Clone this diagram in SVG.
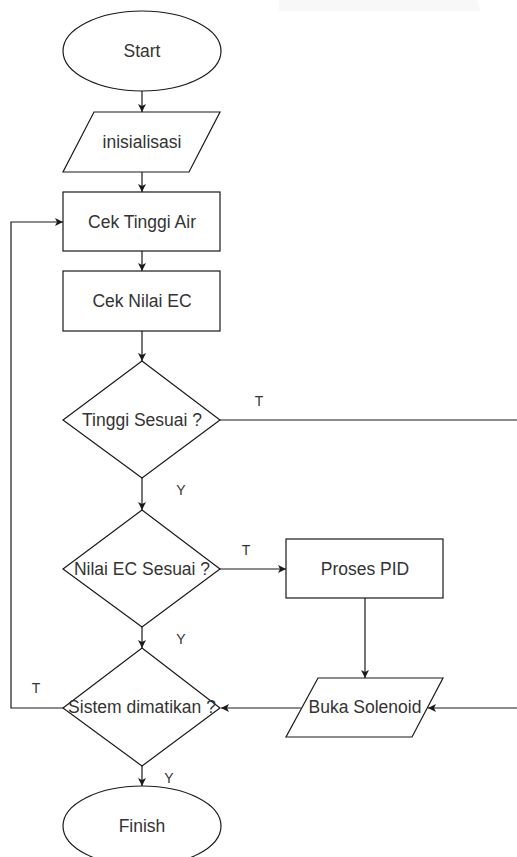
<svg xmlns="http://www.w3.org/2000/svg" width="517" height="857" viewBox="0 0 517 857">
<style>
.s{fill:#fff;stroke:#1a1a1a;stroke-width:1.2}
.t{font-family:"Liberation Sans",Arial,sans-serif;font-size:17.5px;fill:#333;text-anchor:middle}
.l{font-family:"Liberation Sans",Arial,sans-serif;font-size:14px;fill:#333;text-anchor:middle}
.c{fill:none;stroke:#1a1a1a;stroke-width:1.2}
</style>
<defs>
<marker id="a" markerWidth="9" markerHeight="10" refX="8" refY="5" orient="auto" markerUnits="userSpaceOnUse">
<path d="M0,1 L8,5 L0,9 L2,5 Z" fill="#1a1a1a"/>
</marker>
</defs>
<rect width="517" height="857" fill="#fff"/>
<polygon points="279,0 477,0 481,11 279,11" fill="#f8f8f8"/>
<g id="connectors">
<path class="c" d="M142,90 V112" marker-end="url(#a)"/>
<path class="c" d="M142,172 V192" marker-end="url(#a)"/>
<path class="c" d="M142,251 V271" marker-end="url(#a)"/>
<path class="c" d="M142,331 V361" marker-end="url(#a)"/>
<path class="c" d="M220,420 H520"/>
<path class="c" d="M142,478 V510" marker-end="url(#a)"/>
<path class="c" d="M220,569 H286" marker-end="url(#a)"/>
<path class="c" d="M142,627 V648" marker-end="url(#a)"/>
<path class="c" d="M365,598 V678" marker-end="url(#a)"/>
<path class="c" d="M520,708 H428" marker-end="url(#a)"/>
<path class="c" d="M301,708 H221" marker-end="url(#a)"/>
<path class="c" d="M63,708 H11 V222 H63" marker-end="url(#a)"/>
<path class="c" d="M142,766 V786" marker-end="url(#a)"/>
<text class="l" x="259" y="406">T</text>
<text class="l" x="181" y="495">Y</text>
<text class="l" x="246" y="555">T</text>
<text class="l" x="181" y="644">Y</text>
<text class="l" x="36" y="693">T</text>
<text class="l" x="169" y="783">Y</text>
</g>
<g id="start"><ellipse class="s" cx="142" cy="51" rx="79" ry="40"/><text class="t" x="142" y="57">Start</text></g>
<g id="init"><polygon class="s" points="94,112 220,112 189,172 63,172"/><text class="t" x="142" y="148">inisialisasi</text></g>
<g id="cek-tinggi"><rect class="s" x="63" y="192" width="157" height="59"/><text class="t" x="142" y="228">Cek Tinggi Air</text></g>
<g id="cek-ec"><rect class="s" x="63" y="271" width="157" height="60"/><text class="t" x="142" y="307">Cek Nilai EC</text></g>
<g id="tinggi-sesuai"><polygon class="s" points="142,361 220,420 142,478 63,420"/><text class="t" x="142" y="426">Tinggi Sesuai ?</text></g>
<g id="ec-sesuai"><polygon class="s" points="142,510 220,569 142,627 63,569"/><text class="t" x="142" y="575">Nilai EC Sesuai ?</text></g>
<g id="pid"><rect class="s" x="286" y="539" width="157" height="59"/><text class="t" x="365" y="575">Proses PID</text></g>
<g id="solenoid"><polygon class="s" points="318,678 443,678 412,737 286,737"/><text class="t" x="365" y="713">Buka Solenoid</text></g>
<g id="dimatikan"><polygon class="s" points="142,648 220,708 142,766 63,708"/><text class="t" x="142" y="713">Sistem dimatikan ?</text></g>
<g id="finish"><ellipse class="s" cx="142" cy="826" rx="79" ry="40"/><text class="t" x="142" y="832">Finish</text></g>
</svg>
